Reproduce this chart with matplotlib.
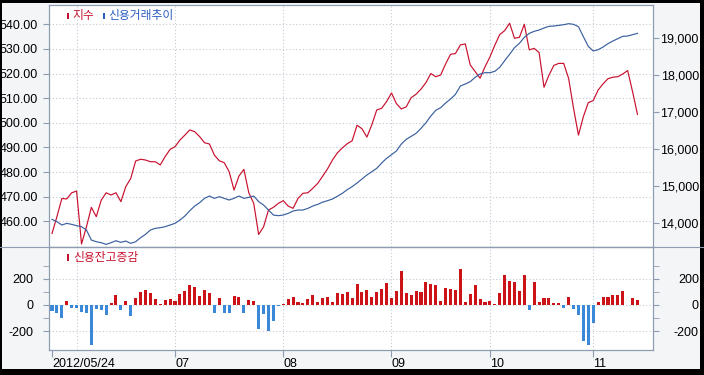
import matplotlib

matplotlib.use("Agg")
import numpy as np
import matplotlib.pyplot as plt
from matplotlib.patches import Rectangle
from matplotlib.lines import Line2D

KR = ["Noto Sans CJK KR", "DejaVu Sans"]
NUM = "Liberation Sans"

RED = "#c8102e"
BLUE_LINE = "#3a5f9e"
BAR_UP = "#cc1418"
BAR_DN = "#3b88d8"
GRID = "#c3cad4"
SPINE = "#8d9cb0"
BG = "#f3f5f7"

# 지수 (left axis)
index_vals = [
    455.1, 461.9, 469.3, 469.1, 471.6, 472.3, 450.8, 457.8, 465.7, 461.9,
    468.6, 471.6, 470.7, 471.6, 468.0, 474.1, 477.4, 484.5, 485.2, 484.9,
    484.2, 484.2, 482.9, 486.3, 489.2, 490.3, 493.0, 495.0, 497.1, 496.4,
    494.4, 491.9, 491.4, 486.9, 484.6, 483.8, 480.2, 472.7, 478.4, 481.1,
    471.6, 467.3, 454.7, 457.8, 464.6, 465.7, 467.3, 468.4, 466.2, 465.3,
    469.3, 471.4, 471.6, 473.4, 475.4, 478.3, 481.3, 484.9, 487.8, 489.8,
    491.5, 492.7, 499.0, 497.6, 494.2, 499.2, 505.2, 505.9, 508.6, 512.1,
    507.8, 505.6, 506.5, 510.2, 511.6, 513.7, 516.3, 520.0, 518.7, 519.4,
    523.9, 527.8, 528.1, 531.6, 532.0, 523.5, 520.8, 518.1, 522.7, 526.7,
    531.5, 535.8, 537.4, 540.4, 534.3, 534.7, 540.0, 529.6, 530.2, 528.5,
    514.4, 519.3, 523.3, 524.1, 524.1, 518.0, 505.9, 495.0, 502.5, 508.2,
    509.0, 513.3, 515.8, 517.9, 518.5, 518.7, 519.8, 521.2, 512.6, 503.4,
]

# 신용거래추이 (right axis)
credit_vals = [
    14090, 14027, 13937, 13982, 13955, 13919, 13892, 13802, 13531, 13486,
    13459, 13414, 13459, 13513, 13468, 13504, 13441, 13486, 13594, 13685,
    13802, 13847, 13865, 13892, 13937, 13982, 14072, 14180, 14324, 14450,
    14541, 14658, 14721, 14658, 14703, 14658, 14613, 14658, 14721, 14658,
    14685, 14721, 14568, 14477, 14342, 14207, 14189, 14207, 14252, 14315,
    14342, 14342, 14387, 14450, 14495, 14555, 14595, 14640, 14715, 14793,
    14892, 14974, 15073, 15181, 15289, 15379, 15469, 15613, 15739, 15838,
    15938, 16127, 16253, 16334, 16415, 16550, 16703, 16884, 17037, 17109,
    17235, 17343, 17469, 17694, 17748, 17812, 17929, 18019, 18055, 18055,
    18091, 18199, 18379, 18550, 18731, 18848, 19010, 19118, 19172, 19208,
    19262, 19307, 19316, 19334, 19352, 19379, 19361, 19298, 19028, 18767,
    18640, 18676, 18748, 18839, 18911, 18974, 19037, 19046, 19082, 19118,
]

# 신용잔고증감 (bars)
change_vals = [
    -46, -58, -96, 33, -25, -25, -51, -63, -304, -30,
    -38, -76, 18, 76, -38, 33, -81, 56, 96, 114,
    94, 46, 8, 40, 46, 33, 83, 109, 152, 134,
    71, 114, 89, -58, 51, -58, -58, 68, 63, -58,
    38, 33, -180, -71, -195, -119, -8, 5, 43, 58,
    23, 15, 43, 76, 23, 51, 58, 20, 89, 83,
    99, 53, 159, 96, 114, 61, 99, 121, 167, 53,
    106, 258, 91, 76, 106, 99, 175, 159, 152, 30,
    129, 121, 114, 275, 25, 87, 154, 45, 25, 30,
    5, 94, 231, 186, 174, 104, 226, -39, 174, 26,
    55, 55, 18, 18, -21, 62, -31, -78, -273, -304,
    -138, 26, 60, 60, 78, 73, 104, 3, 55, 39,
]

# trading-day positions of month starts
tick_pos = [0, 25, 47, 69, 89, 110]
tick_labels = ["2012/05/24", "07", "08", "09", "10", "11"]
month_grid = [5, 25, 47, 69, 89, 110]

left_ticks = [460, 470, 480, 490, 500, 510, 520, 530, 540]
right_ticks = [14000, 15000, 16000, 17000, 18000, 19000]
bar_ticks = [-200, 0, 200]

x = np.arange(len(index_vals))
chg = np.array(change_vals)

W, H = 704, 375
fig = plt.figure(figsize=(W / 100, H / 100), dpi=100, facecolor=BG)
ax1 = fig.add_axes([49 / W, 1 - 247 / H, 604 / W, 242 / H])
ax2 = fig.add_axes([49 / W, 1 - 350 / H, 604 / W, 103 / H], sharex=ax1)
axr = ax1.twinx()
ax2r = ax2.twinx()

ax1.set_xlim(-0.61, 122.15)
ax1.set_ylim(449.6, 547.8)
axr.set_ylim(13343, 19884)
ax2.set_ylim(-343, 442)
ax2r.set_ylim(-343, 442)

for ax in (ax1, ax2):
    ax.set_facecolor("white")
    ax.set_axisbelow(True)
    for m in month_grid:
        ax.axvline(m, color=GRID, lw=0.8, ls=(0, (1, 2)), zorder=0)

# lines
axr.plot(x, credit_vals, color=BLUE_LINE, lw=0.85)
ax1.plot(x, index_vals, color=RED, lw=0.85)

# bars
ax2.bar(x, chg, width=0.62, color=np.where(chg >= 0, BAR_UP, BAR_DN), zorder=2)

# ticks and grid
ax1.set_yticks(left_ticks, [f"{v:.2f}" for v in left_ticks])
ax1.grid(axis="y", color=GRID, lw=0.8, ls=(0, (1, 2)))
ax1.tick_params(axis="x", length=0, labelbottom=False)
ax1.tick_params(axis="y", length=4, pad=4, color=SPINE, labelsize=9)
axr.set_yticks(right_ticks, [f"{v:,}" for v in right_ticks])
axr.tick_params(axis="y", length=4, pad=29, color=SPINE, labelsize=9)

ax2.set_yticks(bar_ticks, [str(v) for v in bar_ticks])
ax2.set_yticks([-100, 100, 300], minor=True)
ax2.grid(axis="y", which="major", color=GRID, lw=0.8, ls=(0, (1, 2)))
ax2.tick_params(axis="y", which="both", length=4, pad=7, color=SPINE, labelsize=9)
ax2r.set_yticks(bar_ticks, [str(v) for v in bar_ticks])
ax2r.set_yticks([-100, 100, 300], minor=True)
ax2r.tick_params(axis="y", which="both", length=4, pad=29, color=SPINE, labelsize=9)

ax2.set_xticks(tick_pos, tick_labels)
ax2.tick_params(axis="x", length=5, pad=1, color=SPINE, labelsize=9)
for lab in ax2.get_xticklabels():
    lab.set_ha("left")

for ax in (ax1, axr, ax2, ax2r):
    for sp in ax.spines.values():
        sp.set_color(SPINE)
        sp.set_linewidth(0.8)
    for lab in ax.get_yticklabels() + ax.get_xticklabels():
        lab.set_fontfamily(NUM)
for ax in (axr, ax2r):
    for lab in ax.get_yticklabels():
        lab.set_ha("right")

# separator between the two panels runs across the whole chart
fig.add_artist(Line2D([0, 1], [1 - 247 / H, 1 - 247 / H], transform=fig.transFigure,
                      color=SPINE, lw=0.8))


# legends
def key(px, py, color):
    fig.add_artist(Rectangle((px / W, 1 - (py + 7) / H), 2.5 / W, 6.5 / H,
                             transform=fig.transFigure, color=color, lw=0))


key(66.5, 12, RED)
fig.text(72 / W, 1 - 15.5 / H, "지수", color=RED, fontsize=8.5, family=KR, va="center")
key(102.5, 12, "#2a5cc0")
fig.text(108 / W, 1 - 15.5 / H, "신용거래추이", color="#2a5cc0", fontsize=8.5,
         family=KR, va="center")
key(66.5, 253.5, RED)
fig.text(73 / W, 1 - 257.5 / H, "신용잔고증감", color=RED, fontsize=8.5,
         family=KR, va="center")

# outer black frame
for (fx, fy, fw, fh) in [(0, 0, 2, H), (0, 0, W, 3), (W - 4, 0, 4, H), (0, H - 6, W, 6)]:
    fig.add_artist(Rectangle((fx / W, 1 - (fy + fh) / H), fw / W, fh / H,
                             transform=fig.transFigure, color="black", lw=0))

fig.savefig("out.png", dpi=100, facecolor=fig.get_facecolor())
